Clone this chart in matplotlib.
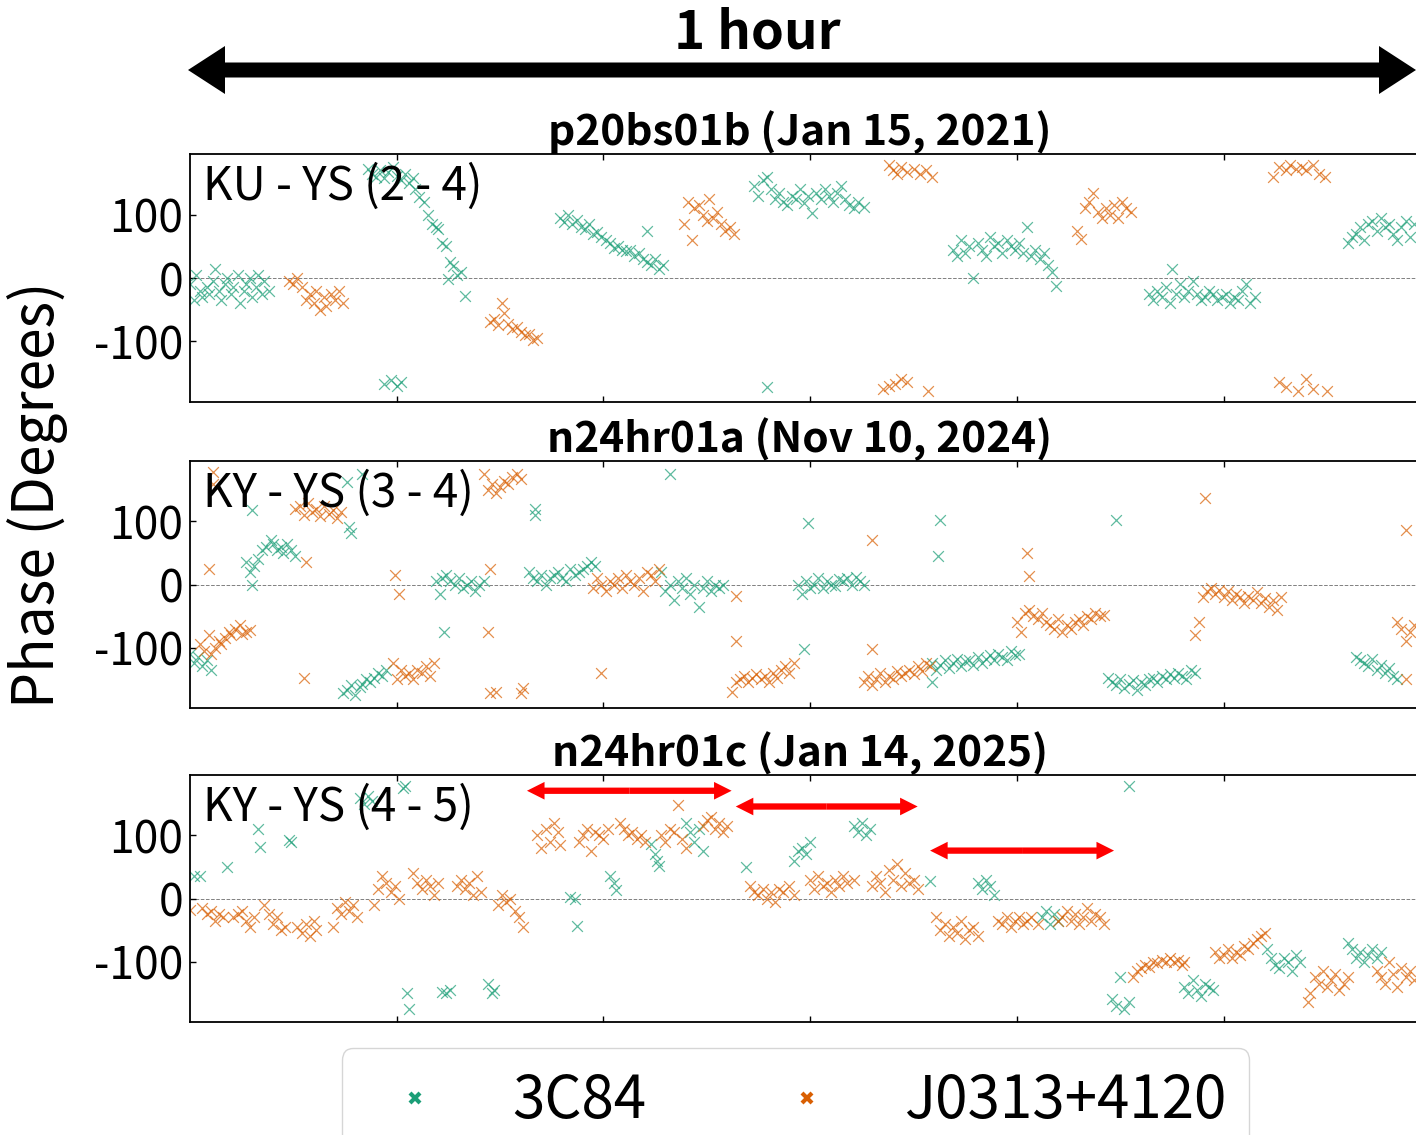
import matplotlib
matplotlib.use("Agg")
import matplotlib.pyplot as plt
from matplotlib.lines import Line2D
from matplotlib.patches import FancyArrow
import numpy as np

plt.rcParams['font.family'] = ['Noto Sans CJK KR', 'DejaVu Sans']

GREEN = '#1b9e77'
ORANGE = '#d95f02'

titles = ["p20bs01b (Jan 15, 2021)", "n24hr01a (Nov 10, 2024)", "n24hr01c (Jan 14, 2025)"]
baselines = ["KU - YS (2 - 4)", "KY - YS (3 - 4)", "KY - YS (4 - 5)"]
source_names = ["3C84", "J0313+4120"]
ytick_vals = [-100, 0, 100]
xtick_vals = [10, 20, 30, 40, 50]

# ---------------- Panel 1: p20bs01b ----------------
p1_3c84_t = [0.0,0.2,0.3,0.5,0.6,0.8,0.9,1.1,1.2,1.4,1.5,1.7,1.8,2.0,2.1,2.3,2.4,2.6,2.7,2.9,3.0,3.2,3.3,3.5,3.6,3.8,
             8.6,8.8,9.0,9.2,9.4,9.6,9.8,10.0,10.2,10.4,10.6,10.8,
             10.9,11.1,11.3,11.5,11.7,11.9,12.0,12.2,12.4,12.5,12.6,12.7,12.9,13.1,13.3,
             9.4,9.7,10.0,10.2,
             17.9,18.1,18.3,18.5,18.7,18.9,19.1,19.3,19.5,19.7,19.9,20.1,20.3,20.5,20.7,20.9,21.1,21.3,21.5,21.7,21.9,22.1,22.3,22.5,22.7,22.9,22.1,
             27.3,27.5,27.7,27.9,28.1,28.3,28.5,28.7,28.9,29.1,29.3,29.5,29.7,29.9,30.1,30.3,30.5,30.7,30.9,31.1,31.3,31.5,31.7,31.9,32.1,32.3,32.6,27.9,
             36.9,37.1,37.3,37.5,37.7,37.9,38.1,38.3,38.5,38.7,38.9,39.1,39.3,39.5,39.7,39.9,40.1,40.3,40.5,40.7,40.9,41.1,41.3,41.5,41.7,41.9,
             46.4,46.6,46.8,47.0,47.2,47.4,47.5,47.7,47.9,48.1,48.3,48.5,48.7,48.9,49.1,49.3,49.5,49.7,49.9,50.1,50.3,50.5,50.7,50.9,51.1,51.3,51.5,
             56.0,56.2,56.4,56.6,56.8,57.0,57.2,57.4,57.6,57.8,58.0,58.2,58.4,58.6,58.8,59.0,59.2]
p1_3c84_ph = [-10,-35,5,-20,-30,-15,-25,-5,15,-20,-35,-10,0,-25,-15,5,-40,-20,-10,0,-30,-15,5,-25,-5,-20,
              172,165,160,170,158,168,175,162,155,165,150,158,
              140,128,120,100,85,80,78,55,50,-2,25,19,5,10,-28,
              -168,-162,-170,-165,
              95,88,100,85,92,80,78,85,70,72,65,60,55,48,50,45,42,45,35,40,30,25,20,30,15,20,75,
              145,130,155,160,140,125,135,120,115,130,125,140,118,130,102,135,125,140,130,120,135,145,125,115,110,120,112,-173,
              45,35,60,40,50,0,55,45,35,65,50,55,40,60,50,45,55,40,80,35,45,30,40,20,10,-12,
              -25,-35,-20,-30,-15,-40,15,-25,-10,-30,-20,-5,-25,-35,-30,-20,-25,-35,-30,-25,-40,-30,-35,-20,-10,-40,-30,
              55,65,70,80,60,85,90,75,95,80,85,70,60,80,90,65,85]
p1_j0313_t = [4.8,5.0,5.2,5.4,5.6,5.8,6.0,6.1,6.3,6.5,6.6,6.8,7.0,7.2,7.4,
              14.5,14.7,14.9,15.1,15.2,15.4,15.6,15.8,16.0,16.2,16.4,16.6,16.8,
              23.9,24.1,24.3,24.4,24.6,24.8,25.0,25.1,25.3,25.5,25.7,25.9,26.1,26.3,
              33.8,34.0,34.2,34.4,34.7,35.0,35.3,35.6,35.9,
              33.5,33.8,34.1,34.4,34.7,35.7,
              42.9,43.1,43.3,43.5,43.7,43.9,44.1,44.3,44.5,44.7,44.9,45.1,45.3,45.5,
              52.4,52.7,53.0,53.2,53.5,53.8,54.0,54.3,54.6,54.9,
              52.7,53.0,53.6,54.0,54.3,55.0]
p1_j0313_ph = [-5,-10,0,-15,-35,-25,-40,-20,-50,-30,-45,-25,-35,-20,-40,
               -70,-65,-75,-40,-55,-72,-80,-78,-85,-90,-88,-98,-95,
               85,120,60,110,115,100,90,125,95,105,85,75,80,70,
               178,170,165,175,168,172,165,170,160,
               -175,-170,-168,-160,-165,-178,
               75,62,110,120,135,105,95,110,100,115,95,120,110,105,
               160,175,170,178,172,175,170,178,165,160,
               -165,-172,-178,-160,-175,-178]

# ---------------- Panel 2: n24hr01a ----------------
p2_3c84_t = [0.0,0.2,0.4,0.6,0.8,1.0,
             2.7,2.9,3.0,3.1,3.3,3.5,3.7,3.9,4.0,4.2,4.4,4.5,4.7,4.9,5.1,3.0,
             7.4,7.6,7.8,8.0,8.2,8.3,8.5,8.7,8.9,9.1,9.3,9.5,
             7.6,8.3,7.7,7.8,12.3,16.7,16.7,23.2,
             11.9,12.1,12.2,12.4,12.6,12.8,13.0,13.2,13.4,13.6,13.8,14.0,14.2,
             16.4,16.6,16.8,17.0,17.2,17.4,17.6,17.8,18.0,18.2,18.4,18.6,18.8,19.0,19.2,19.4,19.6,
             22.8,23.0,23.2,23.4,23.6,23.8,24.0,24.2,24.4,24.6,24.8,25.0,25.2,25.4,25.6,25.8,
             29.9,29.7,
             29.4,29.6,29.8,30.0,30.2,30.4,30.6,30.8,31.0,31.2,31.4,31.6,31.8,32.0,32.2,32.4,32.6,
             35.9,36.1,36.3,36.5,36.7,36.9,37.1,37.3,37.5,37.7,37.9,38.1,38.3,38.5,38.7,38.9,39.1,39.3,39.5,39.7,39.9,40.1,35.9,
             36.3,36.2,
             44.4,44.6,44.8,45.0,45.2,45.4,45.6,45.8,46.0,46.2,46.4,46.6,46.8,47.0,47.2,47.4,47.6,47.8,48.0,48.2,48.4,48.6,
             44.8,
             56.4,56.6,56.8,57.0,57.2,57.4,57.6,57.8,58.0,58.2,58.4]
p2_3c84_ph = [-110,-125,-115,-130,-120,-135,
              35,20,0,30,40,55,60,70,65,55,60,50,65,55,45,119,
              -172,-168,-160,-175,-162,-158,-150,-155,-148,-140,-145,-135,
              162,175,92,82,-75,110,120,175,
              5,-15,10,15,5,0,10,-5,0,5,-10,0,5,
              20,10,5,15,0,10,15,20,10,5,25,15,20,25,30,35,30,
              20,-10,0,-25,5,-5,10,-15,0,-35,-5,5,-10,0,-5,0,
              98,-103,
              0,-15,5,-5,0,10,-5,5,0,-3,8,5,10,0,12,5,0,
              -125,-135,-128,-120,-132,-125,-118,-130,-122,-120,-128,-115,-125,-118,-112,-120,-110,-115,-120,-105,-112,-110,-155,
              103,45,
              -148,-155,-160,-150,-165,-158,-152,-168,-155,-160,-150,-148,-155,-145,-150,-142,-148,-140,-145,-150,-135,-140,
              103,
              -115,-120,-125,-130,-118,-135,-128,-140,-132,-145,-150]
p2_j0313_t = [0.5,0.7,0.9,1.0,1.2,1.4,1.5,1.7,1.9,2.0,2.2,2.4,2.5,2.7,2.9,
              1.1,1.1,0.9,
              5.1,5.3,5.5,5.7,5.9,6.1,6.3,6.5,6.7,6.9,7.1,7.3,
              5.6,5.5,
              14.2,14.4,14.6,14.8,15.0,15.2,15.4,15.6,15.8,16.0,
              9.9,10.1,14.4,14.5,14.5,14.8,16.0,16.1,19.9,
              9.8,10.0,10.2,10.4,10.6,10.8,11.0,11.2,11.4,11.6,11.8,
              19.5,19.7,19.9,20.1,20.3,20.5,20.7,20.9,21.1,21.3,21.5,21.7,21.9,22.1,22.3,22.5,22.7,
              26.2,26.4,26.6,26.8,27.0,27.2,27.4,27.6,27.8,28.0,28.2,28.4,28.6,28.8,29.0,29.2,
              26.4,26.4,33.0,33.0,
              32.6,32.8,33.0,33.2,33.4,33.6,33.8,34.0,34.2,34.4,34.6,34.8,35.0,35.2,35.4,35.6,35.8,
              40.5,40.6,
              40.0,40.2,40.4,40.6,40.8,41.0,41.2,41.4,41.6,41.8,42.0,42.2,42.4,42.6,42.8,43.0,43.2,43.4,43.6,43.8,44.0,44.2,
              49.1,
              48.6,48.8,49.0,49.2,49.4,49.6,49.8,50.0,50.2,50.4,50.6,50.8,51.0,51.2,51.4,51.6,51.8,52.0,52.2,52.4,52.6,52.8,
              58.4,58.6,58.8,59.0,59.2,
              58.8,58.8]
p2_j0313_ph = [-95,-105,-80,-110,-100,-90,-95,-85,-75,-80,-70,-65,-78,-75,-72,
               178,160,24,
               120,125,110,130,115,120,108,125,112,118,105,115,
               35,-148,
               175,150,160,145,155,165,160,170,175,168,
               15,-15,-75,24,-172,-170,-172,-165,-140,
               -125,-150,-135,-145,-140,-150,-135,-140,-130,-145,-125,
               -5,10,0,-10,5,0,10,-5,15,5,0,10,-10,20,15,5,25,
               -170,-155,-150,-145,-155,-148,-142,-150,-145,-155,-140,-148,-135,-130,-140,-125,
               -19,-90,71,-103,
               -155,-145,-160,-150,-140,-155,-145,-150,-138,-145,-140,-135,-142,-130,-138,-125,-130,
               50,14,
               -60,-75,-45,-40,-50,-55,-45,-60,-65,-70,-55,-75,-65,-70,-60,-55,-65,-50,-55,-45,-50,-48,
               138,
               -80,-60,-20,-10,-5,-15,-8,-20,-10,-25,-15,-20,-30,-18,-25,-12,-30,-22,-35,-25,-40,-20,
               -60,-70,-90,-75,-65,
               87,-150]

# ---------------- Panel 3: n24hr01c ----------------
p3_3c84_t = [0.2,0.5,1.8,3.3,3.4,4.8,4.9,8.2,8.4,8.6,8.8,10.3,10.4,10.5,10.6,12.2,12.4,12.6,14.4,14.6,14.7,
             18.4,18.6,18.7,20.3,20.5,20.6,22.3,22.5,22.6,22.7,24.0,24.2,24.4,24.6,24.8,26.9,
             29.2,29.4,29.6,29.8,30.0,32.1,32.3,32.5,32.7,32.9,35.8,38.1,38.3,38.5,38.7,38.9,
             41.2,41.4,41.6,41.8,42.0,45.4,44.6,44.8,45.0,45.2,45.4,
             48.1,48.3,48.5,48.7,48.9,49.1,49.3,49.5,
             52.1,52.3,52.5,52.7,52.9,53.1,53.3,53.5,53.7,
             56.0,56.2,56.4,56.6,56.8,57.0,57.2,57.4,57.6]
p3_3c84_ph = [36,36,50,111,82,93,90,160,150,163,155,175,178,-150,-175,-148,-150,-145,-135,-150,-145,
              3,0,-43,35,25,13,87,70,60,52,120,105,90,110,75,50,
              60,75,80,70,90,115,105,120,100,110,27,25,15,30,20,5,
              -30,-20,-40,-25,-35,178,-160,-170,-125,-175,-165,
              -140,-150,-130,-145,-155,-135,-140,-145,
              -80,-95,-105,-110,-95,-100,-115,-90,-100,
              -70,-80,-95,-85,-100,-90,-80,-95,-85]
p3_j0313_t = [0.0,0.6,0.8,1.0,1.2,1.4,1.6,
              2.1,2.3,2.5,2.7,2.9,3.1,
              3.6,3.8,4.0,4.2,4.4,4.6,
              5.2,5.4,5.6,5.8,6.0,6.1,
              6.9,7.1,7.3,7.5,7.7,7.9,8.1,
              8.9,9.1,9.3,9.5,9.7,9.9,10.1,
              10.8,11.0,11.2,11.4,11.6,11.8,12.0,
              12.9,13.1,13.3,13.5,13.7,13.9,14.1,
              14.9,15.1,15.3,15.5,15.7,15.9,16.1,
              16.8,17.0,17.2,17.4,17.6,17.8,17.9,
              18.8,19.0,19.2,19.4,19.6,19.8,20.0,20.2,
              20.8,21.0,21.2,21.4,21.6,21.8,22.0,
              22.8,23.0,23.2,23.4,23.6,23.8,24.0,
              24.8,25.0,25.2,25.4,25.6,25.8,26.0,
              27.1,27.3,27.5,27.7,27.9,28.1,28.3,28.5,28.7,29.0,29.2,
              30.0,30.2,30.4,30.6,30.8,31.0,31.2,31.4,31.6,31.8,32.1,
              33.0,33.2,33.4,33.6,33.8,34.0,34.2,34.4,34.6,34.8,35.0,35.2,
              36.1,36.3,36.5,36.7,36.9,37.1,37.3,37.5,37.7,37.9,38.1,
              39.1,39.3,39.5,39.7,39.9,40.1,40.3,40.5,40.7,41.0,42.0,42.2,42.4,42.6,42.8,43.0,43.2,43.4,43.6,43.8,44.0,44.2,
              45.6,45.8,46.0,46.2,46.4,46.6,46.8,47.0,47.2,47.4,47.6,47.8,48.0,48.1,
              49.6,49.8,50.0,50.2,50.4,50.6,50.8,51.0,51.2,51.4,51.6,51.8,52.0,
              54.1,54.2,54.4,54.6,54.8,55.0,55.2,55.4,55.6,55.8,56.0,
              57.4,57.6,57.8,58.0,58.2,58.4,58.6,58.8,59.0,59.2]
p3_j0313_ph = [-19,-15,-25,-20,-35,-25,-30,
               -30,-25,-20,-35,-45,-30,
               -10,-25,-40,-30,-50,-45,
               -45,-55,-40,-60,-35,-50,
               -45,-15,-25,-5,-20,-10,-30,
               -10,15,35,25,10,20,0,
               40,25,15,30,20,5,25,
               20,30,15,25,5,35,10,
               -10,5,-5,0,-20,-30,-45,
               100,80,110,90,120,105,85,
               90,100,110,75,105,100,95,110,
               120,110,100,105,95,100,90,
               100,90,110,105,148,95,80,
               115,125,130,110,120,105,115,
               20,10,5,15,0,10,-5,15,10,20,5,
               30,15,35,20,25,10,30,20,35,25,30,
               20,35,25,10,45,30,55,20,40,25,30,15,
               -30,-50,-40,-60,-45,-55,-35,-65,-50,-45,-60,
               -35,-40,-30,-45,-35,-30,-40,-35,-30,-40,-35,-30,-20,-35,-25,-40,-30,-15,-35,-25,-30,-40,
               -125,-115,-110,-105,-108,-100,-103,-98,-100,-95,-100,-98,-105,-100,
               -85,-95,-90,-80,-95,-85,-90,-75,-80,-70,-65,-60,-55,
               -165,-150,-125,-135,-115,-140,-130,-120,-145,-135,-125,
               -115,-125,-135,-100,-120,-140,-110,-125,-115,-130]

panels = [
    (p1_3c84_t, p1_3c84_ph, p1_j0313_t, p1_j0313_ph),
    (p2_3c84_t, p2_3c84_ph, p2_j0313_t, p2_j0313_ph),
    (p3_3c84_t, p3_3c84_ph, p3_j0313_t, p3_j0313_ph),
]

# red double arrows in panel 3: (start, end, phase level)
red_spans = [(16.3, 26.2, 171), (26.4, 35.2, 146), (35.8, 44.7, 76)]

W, H = 1416, 1135
fig = plt.figure(figsize=(W / 100, H / 100), dpi=100)

ax_left = 190 / W
ax_width = 1230 / W
tops = [154, 461, 775]
heights = [248, 247, 247]
XMAX = 59.5

axes = []
for i, (gt, gp, ot, op) in enumerate(panels):
    top = tops[i]
    h = heights[i]
    ax = fig.add_axes([ax_left, (H - top - h) / H, ax_width, h / H])
    axes.append(ax)
    ax.axhline(0, color='gray', lw=0.7, ls='--', zorder=0)
    ax.scatter(gt, gp, marker='x', s=60, color=GREEN, alpha=0.7, linewidths=0.9, zorder=2)
    ax.scatter(ot, op, marker='x', s=60, color=ORANGE, alpha=0.7, linewidths=0.9, zorder=2)
    ax.set_xlim(0, XMAX)
    ax.set_ylim(-196, 196)
    ax.set_yticks(ytick_vals)
    ax.set_yticklabels([str(v) for v in ytick_vals])
    ax.set_xticks(xtick_vals)
    ax.set_xticklabels([])
    ax.tick_params(axis='both', direction='in', length=4, width=1.0, labelsize=32, pad=5)
    ax.tick_params(axis='x', top=True, bottom=True)
    ax.tick_params(axis='y', left=True, right=False)
    for s in ax.spines.values():
        s.set_linewidth(1.3)
    ax.spines['right'].set_visible(False)
    t = ax.set_title(titles[i], fontsize=30.5, fontweight='bold', pad=3)
    t.set_x((800 - 190) / 1230)
    ax.text(13 / 1230, 0.87, baselines[i], transform=ax.transAxes, fontsize=33,
            ha='left', va='center')

# red arrows
ax3 = axes[2]
for (a, b, lvl) in red_spans:
    mid = (a + b) / 2
    for end in (a, b):
        ax3.add_patch(FancyArrow(mid, lvl, end - mid, 0, width=10, head_width=28,
                                 head_length=0.85, length_includes_head=True,
                                 color='red', lw=0, zorder=5))

# y label
fig.text(38 / W, (H - 495) / H, "Phase (Degrees)", rotation=90, ha='center', va='center', fontsize=41)

# top "1 hour" arrow (in inches)
yarr = (H - 70) / 100
xa, xb = 1.88, 14.16
xm = (xa + xb) / 2
for end in (xa, xb):
    fig.patches.append(FancyArrow(xm, yarr, end - xm, 0, width=0.15, head_width=0.48,
                                  head_length=0.37, length_includes_head=True,
                                  color='black', lw=0, transform=fig.dpi_scale_trans,
                                  figure=fig))
fig.text(757 / W, (H - 33) / H, "1 hour", ha='center', va='center', fontsize=38, fontweight='bold')

# legend
handles = [Line2D([], [], ls='none', marker='x', markersize=7, mew=3, color=GREEN),
           Line2D([], [], ls='none', marker='x', markersize=7, mew=3, color=ORANGE)]
leg = fig.legend(handles, source_names, loc='upper center', ncol=2, fontsize=42,
                 bbox_to_anchor=(795.5 / W, (H - 1048) / H), handletextpad=0.8,
                 handlelength=1.72, columnspacing=1.9, borderpad=0.4,
                 borderaxespad=0, frameon=True)

fig.savefig("out.png", dpi=100)
